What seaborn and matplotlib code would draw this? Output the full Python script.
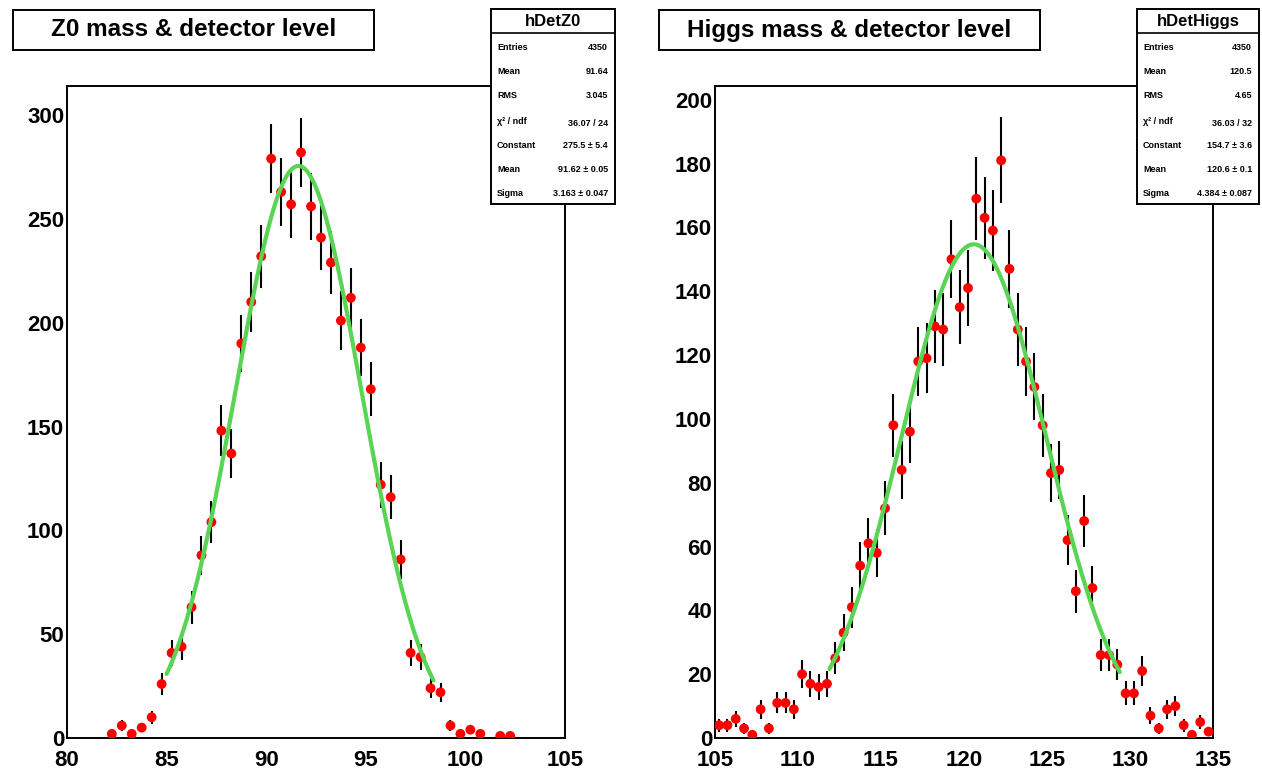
import numpy as np
import pandas as pd
import matplotlib
matplotlib.use("Agg")
import matplotlib.pyplot as plt
from matplotlib.patches import Rectangle
from matplotlib.ticker import MultipleLocator
import seaborn as sns

# ---- Z0 reconstructed mass histogram (0.5 GeV bins, non-empty bins) ----
z_mass = [82.25, 82.75, 83.25, 83.75, 84.25, 84.75, 85.25, 85.75, 86.25, 86.75,
          87.25, 87.75, 88.25, 88.75, 89.25, 89.75, 90.25, 90.75, 91.25, 91.75,
          92.25, 92.75, 93.25, 93.75, 94.25, 94.75, 95.25, 95.75, 96.25, 96.75,
          97.25, 97.75, 98.25, 98.75, 99.25, 99.75, 100.25, 100.75, 101.75, 102.25]
z_counts = [2, 6, 2, 5, 10, 26, 41, 44, 63, 88,
            104, 148, 137, 190, 210, 232, 279, 263, 257, 282,
            256, 241, 229, 201, 212, 188, 168, 122, 116, 86,
            41, 39, 24, 22, 6, 2, 4, 2, 1, 1]

# ---- Higgs reconstructed mass histogram (0.5 GeV bins) ----
higgs_mass = [105.25, 105.75, 106.25, 106.75, 107.25, 107.75, 108.25, 108.75, 109.25, 109.75,
              110.25, 110.75, 111.25, 111.75, 112.25, 112.75, 113.25, 113.75, 114.25, 114.75,
              115.25, 115.75, 116.25, 116.75, 117.25, 117.75, 118.25, 118.75, 119.25, 119.75,
              120.25, 120.75, 121.25, 121.75, 122.25, 122.75, 123.25, 123.75, 124.25, 124.75,
              125.25, 125.75, 126.25, 126.75, 127.25, 127.75, 128.25, 128.75, 129.25, 129.75,
              130.25, 130.75, 131.25, 131.75, 132.25, 132.75, 133.25, 133.75, 134.25, 134.75]
higgs_counts = [4, 4, 6, 3, 1, 9, 3, 11, 11, 9,
                20, 17, 16, 17, 25, 33, 41, 54, 61, 58,
                72, 98, 84, 96, 118, 119, 129, 128, 150, 135,
                141, 169, 163, 159, 181, 147, 128, 118, 110, 98,
                83, 84, 62, 46, 68, 47, 26, 26, 23, 14,
                14, 21, 7, 3, 9, 10, 4, 1, 5, 2]

# ---- Gaussian fit results: constant, mean, sigma; fit range ----
z_fit = [275.5, 91.62, 3.163]
z_fit_range = [85.0, 98.4]
higgs_fit = [154.7, 120.6, 4.384]
higgs_fit_range = [111.9, 129.4]

# ---- Titles and statistics boxes ----
titles = ["Z0 mass & detector level", "Higgs mass & detector level"]
hist_names = ["hDetZ0", "hDetHiggs"]
stat_labels = ["Entries", "Mean", "RMS", "\u03c7\u00b2 / ndf", "Constant", "Mean", "Sigma"]
z_stat_values = ["4350", "91.64", "3.045", "36.07 / 24",
                 "275.5 \u00b1 5.4", "91.62 \u00b1 0.05", "3.163 \u00b1 0.047"]
higgs_stat_values = ["4350", "120.5", "4.65", "36.03 / 32",
                     "154.7 \u00b1 3.6", "120.6 \u00b1 0.1", "4.384 \u00b1 0.087"]

z_xticks = [80, 85, 90, 95, 100, 105]
higgs_xticks = [105, 110, 115, 120, 125, 130, 135]

sns.set_style("white")
plt.rcParams["font.family"] = ["Liberation Sans", "DejaVu Sans"]
plt.rcParams["font.weight"] = "bold"
plt.rcParams["text.color"] = "black"
plt.rcParams["xtick.color"] = "black"
plt.rcParams["ytick.color"] = "black"
plt.rcParams["xtick.labelcolor"] = "black"
plt.rcParams["ytick.labelcolor"] = "black"

W, H = 1262, 772
fig = plt.figure(figsize=(W / 100, H / 100), dpi=100)
fig.patch.set_facecolor("white")

FIT_GREEN = "#59d454"


def px_rect(x0, y0, x1, y1):
    """Figure-fraction rectangle from pixel corners (top-left origin)."""
    return [x0 / W, 1 - y1 / H, (x1 - x0) / W, (y1 - y0) / H]


def draw_panel(ax, mass, counts, fit, fit_range, xlim, ylim, xticks, ymajor, yminor):
    df = pd.DataFrame({"mass": mass, "count": counts})
    err = np.sqrt(df["count"])
    ax.vlines(df["mass"], df["count"] - err, df["count"] + err,
              color="black", lw=1.5, zorder=2)
    sns.scatterplot(data=df, x="mass", y="count", ax=ax, color="#ff0000",
                    s=50, edgecolor="none", linewidth=0, zorder=3, legend=False)
    amp, mu, sig = fit
    xs = np.linspace(fit_range[0], fit_range[1], 400)
    curve = pd.DataFrame({"mass": xs, "fit": amp * np.exp(-0.5 * ((xs - mu) / sig) ** 2)})
    sns.lineplot(data=curve, x="mass", y="fit", ax=ax, color=FIT_GREEN,
                 lw=3.0, zorder=4, legend=False)

    ax.set_xlim(*xlim)
    ax.set_ylim(*ylim)
    ax.set_xlabel("")
    ax.set_ylabel("")
    ax.set_xticks(xticks)
    ax.xaxis.set_minor_locator(MultipleLocator(1))
    ax.yaxis.set_major_locator(MultipleLocator(ymajor))
    ax.yaxis.set_minor_locator(MultipleLocator(yminor))
    ax.tick_params(which="both", direction="in", top=False, right=False,
                   width=1.4, color="black", labelcolor="black", labelsize=16)
    ax.tick_params(axis="x", which="major", length=13, pad=9)
    ax.tick_params(axis="x", which="minor", length=6.5)
    ax.tick_params(axis="y", which="major", length=11, pad=2)
    ax.tick_params(axis="y", which="minor", length=6)
    for lab in ax.get_xticklabels() + ax.get_yticklabels():
        lab.set_fontweight("bold")
    for sp in ax.spines.values():
        sp.set_visible(True)
        sp.set_linewidth(1.4)
        sp.set_color("black")


ax1 = fig.add_axes(px_rect(67, 86, 565, 738))
draw_panel(ax1, z_mass, z_counts, z_fit, z_fit_range,
           (80, 105), (0, 314), z_xticks, 50, 10)

ax2 = fig.add_axes(px_rect(715, 86, 1212.7, 738))
draw_panel(ax2, higgs_mass, higgs_counts, higgs_fit, higgs_fit_range,
           (105, 135), (0, 204.3), higgs_xticks, 20, 5)


def title_box(x0, y0, x1, y1, text):
    fig.add_artist(Rectangle((x0 / W, 1 - y1 / H), (x1 - x0) / W, (y1 - y0) / H,
                             transform=fig.transFigure, facecolor="white",
                             edgecolor="black", lw=1.4, zorder=10))
    fig.text((x0 + x1) / 2 / W, 1 - (y0 + y1) / 2 / H, text, ha="center", va="center",
             fontsize=17.5, fontweight="bold", color="black", zorder=11)


def stats_box(x0, x1, name, values):
    y0, y1, ysep = 9, 204, 33
    fig.add_artist(Rectangle((x0 / W, 1 - y1 / H), (x1 - x0) / W, (y1 - y0) / H,
                             transform=fig.transFigure, facecolor="white",
                             edgecolor="black", lw=1.4, zorder=10))
    fig.add_artist(plt.Line2D([x0 / W, x1 / W], [1 - ysep / H, 1 - ysep / H],
                              transform=fig.transFigure, color="black", lw=1.2, zorder=11))
    fig.text((x0 + x1) / 2 / W, 1 - 21.5 / H, name, ha="center", va="center",
             fontsize=12, fontweight="bold", color="black", zorder=12)
    row_y = [47, 71, 95, 121, 145, 170, 193]
    for lab, val, yy in zip(stat_labels, values, row_y):
        fig.text((x0 + 6) / W, 1 - yy / H, lab, ha="left", va="center",
                 fontsize=6.5, fontweight="bold", color="black", zorder=12)
        fig.text((x1 - 7) / W, 1 - (yy + (3 if "ndf" in lab else 0)) / H, val,
                 ha="right", va="center", fontsize=6.5, fontweight="bold",
                 color="black", zorder=12)


title_box(12.7, 10, 374, 50, titles[0])
title_box(658.5, 10, 1040, 50, titles[1])
stats_box(491, 615, hist_names[0], z_stat_values)
stats_box(1137, 1259, hist_names[1], higgs_stat_values)

fig.savefig("out.png", dpi=100, facecolor="white")
